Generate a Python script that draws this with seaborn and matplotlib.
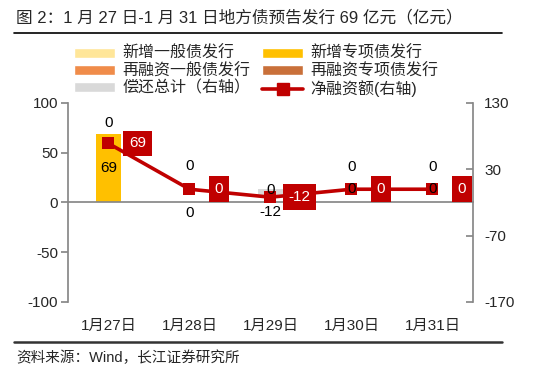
import numpy as np
import pandas as pd
import matplotlib
matplotlib.use("Agg")
import matplotlib.pyplot as plt
import seaborn as sns
from matplotlib.patches import Patch
from matplotlib.lines import Line2D

# -----------------------------
# Data (亿元)
# -----------------------------
dates = ["1月27日", "1月28日", "1月29日", "1月30日", "1月31日"]
new_general = [0, 0, 0, 0, 0]
new_special = [69, 0, 0, 0, 0]
refi_general = [0, 0, 0, 0, 0]
refi_special = [0, 0, 0, 0, 0]
repay = [0, 0, -12, 0, 0]        # right axis
net_financing = [69, 0, -12, 0, 0]  # right axis

series_names = ["新增一般债发行", "新增专项债发行", "再融资一般债发行", "再融资专项债发行"]
colors = ["#FFE699", "#FFC000", "#F08C4A", "#C9703A"]
repay_color = "#D9D9D9"
net_color = "#C00000"

sns.set_theme(style="white")
plt.rcParams["font.family"] = ["Liberation Sans", "Noto Sans CJK SC"]
plt.rcParams["axes.unicode_minus"] = False

df = pd.DataFrame({"date": dates, "ng": new_general, "ns": new_special,
                   "rg": refi_general, "rs": refi_special})
stack = df[["ng", "ns", "rg", "rs"]].cumsum(axis=1)

fig = plt.figure(figsize=(5.5, 3.83), dpi=100)
ax = fig.add_axes([0.1236, 0.2115, 0.7364, 0.5196])

# stacked bars: draw cumulative tops from the top series down
for col, c in zip(["rs", "rg", "ns", "ng"], colors[::-1]):
    sns.barplot(x=df["date"], y=stack[col], ax=ax, color=c, width=0.3,
                saturation=1, linewidth=0, zorder=2)

ax2 = ax.twinx()
sns.barplot(x=df["date"], y=repay, ax=ax2, color=repay_color, width=0.3,
            saturation=1, linewidth=0, zorder=1)
xpos = np.arange(len(dates))
sns.lineplot(x=xpos, y=net_financing, ax=ax2, color=net_color, lw=2.6,
             marker="s", markersize=9, markeredgewidth=0, zorder=3)

ax.set_ylim(-100, 100)
ax.set_yticks([-100, -50, 0, 50, 100])
ax2.set_ylim(-170, 130)
ax2.set_yticks([-170, -70, 30, 130])
ax.set_xlim(-0.5, len(dates) - 0.5)
ax2.set_xlim(-0.5, len(dates) - 0.5)
ax.set_xlabel("")
ax.set_ylabel("")
ax2.set_xlabel("")
ax2.set_ylabel("")

# axes styling
for a in (ax, ax2):
    for s in a.spines.values():
        s.set_visible(False)
ax.spines["left"].set_visible(True)
ax.spines["left"].set_color("#888888")
ax2.spines["right"].set_visible(True)
ax2.spines["right"].set_color("#888888")
ax.spines["bottom"].set_visible(True)
ax.spines["bottom"].set_color("#888888")
ax.spines["bottom"].set_position(("data", 0))

ax.set_xticks(xpos)
ax.set_xticklabels(dates)
ax.set_xticks(xpos[:-1] + 0.5, minor=True)
ax.tick_params(axis="x", which="major", length=0, pad=84, labelsize=11)
ax.tick_params(axis="x", which="minor", length=5, direction="out",
               color="#888888", width=1)
ax.tick_params(axis="y", left=True, length=5, direction="out",
               color="#888888", labelsize=11, pad=2)
ax2.tick_params(axis="y", right=True, length=5, direction="in",
                color="#888888", labelsize=11, pad=8)
ax2.tick_params(axis="x", bottom=False, labelbottom=False)
ax.grid(False)
ax2.grid(False)

# labels: top "0" labels above net markers
top_off = [15, 17, 5, 16, 16]
for i, v in enumerate(new_general):
    ax2.annotate(f"{v}", (xpos[i], net_financing[i]), xytext=(0, top_off[i]),
                 textcoords="offset points", ha="center", va="center",
                 fontsize=11, color="black", zorder=5)
# value inside the special bond bar
for i, v in enumerate(new_special):
    if v > 0:
        ax.text(xpos[i], v / 2, f"{v}", ha="center", va="center",
                fontsize=11, color="black", zorder=5)
# repayment labels
rep_off = [None, -17, -11, 0, 0]
for i, v in enumerate(repay):
    if rep_off[i] is None:
        continue
    ax2.annotate(f"{v}", (xpos[i], net_financing[i]), xytext=(0, rep_off[i]),
                 textcoords="offset points", ha="center", va="center",
                 fontsize=11, color="black", zorder=6)
# net financing boxes
for i, v in enumerate(net_financing):
    ax2.annotate(f"{v}", (xpos[i], v), xytext=(21, 0),
                 textcoords="offset points", ha="center", va="center",
                 fontsize=11, color="white", zorder=7,
                 bbox=dict(boxstyle="square,pad=0.38", fc=net_color, ec="none"))

# legend (column-wise fill: left column first)
handles = [Patch(fc=colors[0]), Patch(fc=colors[2]), Patch(fc=repay_color),
           Patch(fc=colors[1]), Patch(fc=colors[3]),
           Line2D([], [], color=net_color, lw=2.6, marker="s", markersize=9)]
labels = [series_names[0], series_names[2], "偿还总计（右轴）",
          series_names[1], series_names[3], "净融资额(右轴)"]
fig.legend(handles, labels, ncol=2, loc="upper left",
           bbox_to_anchor=(0.117, 0.905), frameon=False, fontsize=11.5,
           handlelength=2.6, handleheight=0.6, handletextpad=0.45,
           columnspacing=0.7, labelspacing=0.12, borderpad=0.1)

# title, rules, source
fig.text(0.03, 0.955, "图 2：1 月 27 日-1 月 31 日地方债预告发行 69 亿元（亿元）",
         fontsize=12, ha="left", va="center")
fig.add_artist(Line2D([0.025, 0.913], [0.913, 0.913], color="black", lw=1.2))
fig.add_artist(Line2D([0.025, 0.913], [0.107, 0.107], color="#333333", lw=1.8))
fig.text(0.03, 0.066, "资料来源：Wind，长江证券研究所", fontsize=10.5,
         ha="left", va="center")

fig.savefig("out.png", dpi=100)
